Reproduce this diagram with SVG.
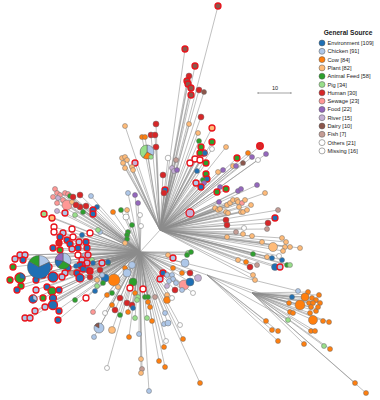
<svg xmlns="http://www.w3.org/2000/svg" width="380" height="400" viewBox="0 0 380 400">
<style>
circle{stroke:#6e6e6e;stroke-width:.5}
.e{fill:#1f6fb4}.c{fill:#aec7e8}.w{fill:#ff7f0e}.p{fill:#ffbb78}.a{fill:#2ca02c}.g{fill:#98df8a}.h{fill:#d62728}.s{fill:#ff9896}.f{fill:#9467bd}.r{fill:#c5b0d5}.d{fill:#8c564b}.i{fill:#c49c94}.o{fill:#ffffff}.m{fill:#ffffff}
.R{stroke:#e8141c;stroke-width:1.3}
.ln{fill:none;stroke:#8c8c8c;stroke-width:.55}
.pie path{stroke:#555;stroke-width:.5}
.lg text{font-family:"Liberation Sans",Arial,sans-serif;font-size:5.7px;fill:#222}
.lg circle{stroke:#555;stroke-width:.5}
</style>
<rect width="380" height="400" fill="#fff"/>
<g id="connectors" class="ln">
<path d="M160 230L218 6M160 230L185 49M160 230L195 66M160 230L189 76M160 230L187 81M160 230L188 84M160 230L191 88M160 230L199 90M160 230L204 92M160 230L191 95M160 230L201 117M160 230L189 124M160 230L198 133M160 230L212 128M160 230L199 141M160 230L212 142M160 230L201 147M160 230L212 149M160 230L226 147M160 230L204 153M160 230L156 124M160 230L151 135M160 230L155 135M160 230L156 147M160 230L147 152M160 230L125 126M160 230L142 137M160 230L145 137M160 230L168 158M160 230L176 160M160 230L135 163M160 230L122 158M160 230L125 157M160 230L190 163M160 230L195 159M160 230L200 153M160 230L205 153M160 230L200 160M160 230L206 163M160 230L237 158M160 230L243 163M160 230L248 153M160 230L252 157M160 230L258 160M160 230L266 154M160 230L260 146M160 230L233 166M160 230L236 166M160 230L127 160M160 230L123 163M160 230L132 167M160 230L133 170M160 230L125 168M160 230L163 175M160 230L172 168M160 230L174 171M160 230L177 170M160 230L197 171M160 230L206 174M160 230L207 179M160 230L203 180M160 230L196 183M160 230L201 187M160 230L204 183M160 230L165 190M160 230L164 193M160 230L218 172M160 230L223 170M160 230L220 187M160 230L217 192M160 230L226 189M160 230L238 191M160 230L241 189M160 230L257 185M160 230L265 193M160 230L219 202M160 230L215 208M160 230L218 210M160 230L220 209M160 230L227 205M160 230L230 203M160 230L233 200M160 230L237 200M160 230L238 202M160 230L242 203M160 230L245 200M160 230L226 212M160 230L228 213M160 230L239 207M160 230L241 212M160 230L243 212M160 230L247 210M160 230L251 205M160 230L190 213M160 230L226 220M160 230L227 225M160 230L236 232M160 230L244 228M160 230L243 234M160 230L227 237M160 230L252 236M160 230L268 223M160 230L275 218M160 230L278 210M160 230L267 229M160 230L262 242M160 230L282 238M160 230L286 242M160 230L285 247M160 230L290 247M160 230L300 248M160 230L273 247M160 230L283 251M160 230L238 260M160 230L246 262M160 230L253 254M160 230L250 267M160 230L257 265M160 230L267 257M160 230L272 258M160 230L275 267M160 230L280 267M160 230L282 260M160 230L290 265M160 230L287 265M160 230L279 256M160 230L253 275M160 230L255 280"/>
<path d="M140 252L160 230M140 252L39 267M140 252L63 261M140 252L20 255M140 252L25 255M140 252L15 259M140 252L49 267M140 252L36 290M140 252L45 307M140 252L25 318M140 252L30 318M140 252L62 277M140 252L65 273M140 252L63 233M140 252L72 248M140 252L82 260M140 252L79 242M140 252L65 213M140 252L102 263M140 252L35 311M140 252L23 260M140 252L18 289M140 252L36 280M140 252L43 275M140 252L53 277M140 252L47 287M140 252L59 290M140 252L53 298M140 252L53 305M140 252L58 310M140 252L68 268M140 252L53 248M140 252L60 237M140 252L80 265M140 252L83 268M140 252L77 273M140 252L80 277M140 252L67 240M140 252L70 243M140 252L78 248M140 252L86 242M140 252L87 248M140 252L93 210M140 252L93 213M140 252L58 320M140 252L13 267M140 252L10 280M140 252L21 285M140 252L52 291M140 252L43 298M140 252L60 250M140 252L73 237M140 252L78 255M140 252L86 298M140 252L54 227M140 252L54 232M140 252L72 229M140 252L90 233M140 252L59 243M140 252L87 263M140 252L88 255M140 252L82 265M140 252L90 270M140 252L90 277M140 252L100 270M140 252L73 197M140 252L80 195M140 252L86 206M140 252L80 207M140 252L76 205M140 252L20 278M140 252L33 299M140 252L72 273M140 252L75 300M140 252L70 196M140 252L83 212M140 252L103 283M140 252L88 270M140 252L97 207M140 252L82 235M140 252L108 262M140 252L76 266M140 252L93 263M140 252L92 283M140 252L55 189M140 252L60 195M140 252L65 193M140 252L53 197M140 252L57 203M140 252L67 205M140 252L58 198M140 252L57 211M140 252L72 202M140 252L97 280M140 252L127 210M140 252L125 243M140 252L91 196M140 252L85 255M140 252L100 232M140 252L102 275M140 252L75 215M140 252L98 230M140 252L92 260M140 252L44 214M140 252L52 218M140 252L113 212M140 252L108 263M140 252L132 265M140 252L127 273M140 252L125 268M140 252L114 280M140 252L105 278M140 252L133 282M140 252L118 287M140 252L130 288M140 252L143 289M140 252L112 293M140 252L107 295M140 252L120 298M140 252L135 293M140 252L138 297M140 252L145 297M140 252L148 297M140 252L127 303M140 252L132 305M140 252L137 300M140 252L133 308M140 252L115 310M140 252L128 312M140 252L112 305M140 252L105 313M140 252L120 315M140 252L135 318M140 252L148 302M140 252L150 307M140 252L155 297M140 252L167 300M140 252L167 295M140 252L172 298M140 252L147 318M140 252L152 321M140 252L165 313M140 252L168 323M140 252L164 324M140 252L180 325M140 252L93 312M140 252L99 328M140 252L112 330M140 252L94 337M140 252L129 337M140 252L139 334M140 252L166 341M140 252L183 339M140 252L164 347M140 252L159 361M140 252L165 367M140 252L141 359M140 252L142 369M140 252L141 373M140 252L107 368M140 252L149 391M140 252L200 383M140 252L163 273M140 252L160 279M140 252L167 275M140 252L172 275M140 252L173 279M140 252L169 281M140 252L167 286M140 252L176 283M140 252L175 290M140 252L184 285M140 252L190 282M140 252L190 273M140 252L182 273M140 252L198 278M140 252L193 293M140 252L182 290M140 252L97 286M140 252L95 291M140 252L168 255M140 252L173 258M140 252L187 255M140 252L191 252M140 252L188 253M140 252L185 263M140 252L173 268M140 252L128 193M140 252L135 195M140 252L138 203M140 252L126 217M140 252L140 215M140 252L141 226M140 252L132 225M140 252L121 210M140 252L128 232M140 252L127 235M140 252L127 239M140 252L298 291M140 252L207 275"/>
<path d="M207 275L252 293M207 275L266 321M207 275L272 330M207 275L278 331M207 275L278 341M207 275L289 303M207 275L288 320M252 293L308 292M252 293L292 297M252 293L305 297M252 293L319 295M252 293L312 298M252 293L316 300M252 293L300 305M252 293L309 303M252 293L313 303M252 293L320 303M252 293L311 307M252 293L316 311M252 293L318 309M252 293L290 312M252 293L293 313M252 293L310 313M252 293L313 320M252 293L323 321M252 293L329 322M252 293L311 331M252 293L315 331M252 293L304 344M252 293L324 346M252 293L330 349M252 293L355 383M252 293L366 393"/>
</g>
<g id="scale">
<path d="M258 93H291M258 92v2M291 92v2" stroke="#666" stroke-width=".6" fill="none"/>
<text x="275" y="90" text-anchor="middle" font-family="Liberation Sans,Arial,sans-serif" font-size="5.5" fill="#222">10</text>
</g>
<g id="nodes-top">
<circle class="d R" cx="218" cy="6" r="3"/>
<circle class="d R" cx="185" cy="49" r="3"/>
<circle class="d R" cx="195" cy="66" r="3"/>
<circle class="h" cx="189" cy="76" r="3"/>
<circle class="d R" cx="187" cy="81" r="3"/>
<circle class="d R" cx="188" cy="84" r="3"/>
<circle class="d R" cx="191" cy="88" r="3"/>
<circle class="h" cx="199" cy="90" r="3"/>
<circle class="d" cx="204" cy="92" r="2.5"/>
<circle class="d R" cx="191" cy="95" r="3"/>
<circle class="h" cx="201" cy="117" r="3"/>
<circle class="p" cx="189" cy="124" r="2.5"/>
<circle class="p" cx="198" cy="133" r="2.5"/>
<circle class="p R" cx="212" cy="128" r="3"/>
<circle class="a" cx="199" cy="141" r="2.5"/>
<circle class="a R" cx="212" cy="142" r="3"/>
<circle class="a R" cx="201" cy="147" r="3"/>
<circle class="o" cx="212" cy="149" r="2.5"/>
<circle class="p" cx="226" cy="147" r="2.5"/>
<circle class="e R" cx="204" cy="153" r="3"/>
<circle class="h" cx="156" cy="124" r="3"/>
<circle class="h" cx="151" cy="135" r="3"/>
<circle class="h" cx="155" cy="135" r="3"/>
<circle class="h" cx="156" cy="147" r="3"/>
<circle class="p" cx="125" cy="126" r="2.5"/>
<circle class="w" cx="142" cy="137" r="2.5"/>
<circle class="w" cx="145" cy="137" r="2.5"/>
<g class="pie"><path class="c" d="M147 152L147 145A7 7 0 0 1 153.06 155.5Z"/><path class="w" d="M147 152L153.06 155.5A7 7 0 0 1 142.98 157.73Z"/><path class="g" d="M147 152L142.98 157.73A7 7 0 0 1 147 145Z"/></g>
<circle class="g" cx="151" cy="157" r="2.3"/>
<circle class="o" cx="168" cy="158" r="2.8"/>
<circle class="i" cx="176" cy="160" r="2.5"/>
<circle class="r R" cx="135" cy="163" r="3"/>
<circle class="p" cx="122" cy="158" r="2.5"/>
<circle class="p" cx="125" cy="157" r="2.5"/>
<circle class="o R" cx="190" cy="163" r="3"/>
<circle class="o R" cx="195" cy="159" r="3"/>
<circle class="a R" cx="200" cy="153" r="3"/>
<circle class="e" cx="205" cy="153" r="2.5"/>
<circle class="o R" cx="200" cy="160" r="3"/>
<circle class="a R" cx="206" cy="163" r="3"/>
<circle class="a R" cx="237" cy="158" r="3"/>
<circle class="d" cx="243" cy="163" r="2.5"/>
<circle class="w" cx="248" cy="153" r="2.5"/>
<circle class="f" cx="252" cy="157" r="2.5"/>
<circle class="o" cx="258" cy="160" r="2.5"/>
<circle class="f" cx="266" cy="154" r="2.5"/>
<circle class="h R" cx="260" cy="146" r="3.3"/>
<circle class="p" cx="233" cy="166" r="2.5"/>
<circle class="f" cx="236" cy="166" r="2.5"/>
<circle class="p" cx="127" cy="160" r="2.5"/>
<circle class="p" cx="123" cy="163" r="2.5"/>
<circle class="p" cx="132" cy="167" r="2.5"/>
<circle class="p" cx="133" cy="170" r="2.5"/>
<circle class="p" cx="125" cy="168" r="2.5"/>
<circle class="h" cx="163" cy="175" r="3"/>
<circle class="r" cx="172" cy="168" r="2.5"/>
<circle class="r" cx="174" cy="171" r="2.5"/>
<circle class="f" cx="177" cy="170" r="2.5"/>
<circle class="e" cx="197" cy="171" r="2.5"/>
<circle class="a R" cx="206" cy="174" r="3"/>
<circle class="e R" cx="207" cy="179" r="3"/>
<circle class="a" cx="203" cy="180" r="2.5"/>
<circle class="c R" cx="196" cy="183" r="3"/>
<circle class="f" cx="204" cy="183" r="2.5"/>
<circle class="e R" cx="201" cy="187" r="3"/>
<circle class="e R" cx="165" cy="190" r="3"/>
<circle class="h" cx="164" cy="193" r="3"/>
</g>
<g id="nodes-right">
<circle class="p" cx="218" cy="172" r="2.5"/>
<circle class="f" cx="223" cy="170" r="2.5"/>
<circle class="f" cx="220" cy="187" r="2.5"/>
<circle class="a R" cx="217" cy="192" r="3"/>
<circle class="a R" cx="226" cy="189" r="3"/>
<circle class="f" cx="238" cy="191" r="2.5"/>
<circle class="f" cx="241" cy="189" r="2.5"/>
<circle class="f" cx="257" cy="185" r="2.5"/>
<circle class="p" cx="265" cy="193" r="2.5"/>
<circle class="f" cx="219" cy="202" r="2.5"/>
<circle class="p" cx="215" cy="208" r="2.5"/>
<circle class="p" cx="218" cy="210" r="2.5"/>
<circle class="p" cx="220" cy="209" r="2.5"/>
<circle class="p" cx="227" cy="205" r="2.5"/>
<circle class="p" cx="230" cy="203" r="2.5"/>
<circle class="p" cx="233" cy="200" r="2.5"/>
<circle class="p" cx="237" cy="200" r="2.5"/>
<circle class="p" cx="238" cy="202" r="2.5"/>
<circle class="s" cx="242" cy="203" r="2.5"/>
<circle class="p" cx="245" cy="200" r="2.5"/>
<circle class="p" cx="226" cy="212" r="2.5"/>
<circle class="p" cx="228" cy="213" r="2.5"/>
<circle class="p" cx="239" cy="207" r="2.5"/>
<circle class="p" cx="241" cy="212" r="2.5"/>
<circle class="p" cx="243" cy="212" r="2.5"/>
<circle class="p" cx="247" cy="210" r="2.5"/>
<circle class="p" cx="251" cy="205" r="2.5"/>
<circle class="r R" cx="190" cy="213" r="4"/>
<circle class="h" cx="226" cy="220" r="3"/>
<circle class="h" cx="227" cy="225" r="3"/>
<circle class="i" cx="236" cy="232" r="2.5"/>
<circle class="o" cx="244" cy="228" r="2.5"/>
<circle class="p" cx="243" cy="234" r="2.5"/>
<circle class="p" cx="227" cy="237" r="2.5"/>
<circle class="p" cx="252" cy="236" r="2.5"/>
<circle class="h" cx="268" cy="223" r="3"/>
<circle class="e R" cx="275" cy="218" r="3"/>
<circle class="i" cx="278" cy="210" r="2.5"/>
<circle class="i" cx="267" cy="229" r="2.5"/>
<circle class="p" cx="262" cy="242" r="2.5"/>
<circle class="p" cx="282" cy="238" r="2.5"/>
<circle class="p" cx="286" cy="242" r="2.5"/>
<circle class="p" cx="285" cy="247" r="2.5"/>
<circle class="p" cx="290" cy="247" r="2.5"/>
<circle class="p" cx="300" cy="248" r="2.5"/>
<circle class="p" cx="273" cy="247" r="4.5"/>
<circle class="p" cx="283" cy="251" r="2.5"/>
<circle class="p" cx="238" cy="260" r="2.5"/>
<circle class="w" cx="246" cy="262" r="2.5"/>
<circle class="a" cx="253" cy="254" r="2.5"/>
<circle class="h" cx="250" cy="267" r="3"/>
<circle class="i" cx="257" cy="265" r="2.5"/>
<circle class="p" cx="267" cy="257" r="2.5"/>
<circle class="e" cx="272" cy="258" r="2.5"/>
<circle class="e" cx="275" cy="267" r="3.5"/>
<circle class="c R" cx="280" cy="267" r="3"/>
<circle class="e" cx="282" cy="260" r="2.5"/>
<circle class="a" cx="287" cy="265" r="2.5"/>
<circle class="g" cx="290" cy="265" r="2.5"/>
<circle class="o" cx="279" cy="256" r="2.5"/>
<circle class="p" cx="253" cy="275" r="2.5"/>
<circle class="p" cx="255" cy="280" r="2.5"/>
</g>
<g id="nodes-orange">
<circle class="c" cx="298" cy="291" r="2.5"/>
<circle class="w" cx="308" cy="292" r="2.5"/>
<circle class="e" cx="292" cy="297" r="2.5"/>
<circle class="w" cx="305" cy="297" r="4"/>
<circle class="w" cx="319" cy="295" r="2.5"/>
<circle class="w" cx="312" cy="298" r="2.5"/>
<circle class="w" cx="316" cy="300" r="2.5"/>
<circle class="w" cx="300" cy="305" r="5"/>
<circle class="w" cx="289" cy="303" r="2.5"/>
<circle class="w" cx="309" cy="303" r="2.5"/>
<circle class="w" cx="313" cy="303" r="2.5"/>
<circle class="w" cx="320" cy="303" r="2.5"/>
<circle class="w" cx="311" cy="307" r="2.5"/>
<circle class="w" cx="316" cy="311" r="2.5"/>
<circle class="w" cx="318" cy="307" r="2.5"/>
<circle class="w" cx="290" cy="312" r="2.5"/>
<circle class="w" cx="293" cy="313" r="2.5"/>
<circle class="w" cx="310" cy="313" r="2.5"/>
<circle class="w" cx="313" cy="320" r="4.5"/>
<circle class="w" cx="323" cy="321" r="2.5"/>
<circle class="w" cx="329" cy="322" r="2.5"/>
<circle class="g" cx="288" cy="320" r="2.5"/>
<circle class="w" cx="266" cy="321" r="2.5"/>
<circle class="w" cx="272" cy="330" r="2.5"/>
<circle class="w" cx="278" cy="331" r="2.5"/>
<circle class="w" cx="278" cy="341" r="2.5"/>
<circle class="w" cx="311" cy="331" r="2.5"/>
<circle class="w" cx="315" cy="331" r="2.5"/>
<circle class="w" cx="304" cy="344" r="2.5"/>
<circle class="g" cx="324" cy="346" r="2.5"/>
<circle class="w" cx="330" cy="349" r="2.5"/>
<circle class="w" cx="355" cy="383" r="2.5"/>
<circle class="w" cx="366" cy="393" r="2.5"/>
</g>
<g id="nodes-bottom">
<circle class="a" cx="108" cy="263" r="2.5"/>
<circle class="c" cx="132" cy="265" r="3.5"/>
<circle class="w" cx="125" cy="268" r="2.5"/>
<circle class="c" cx="127" cy="273" r="4"/>
<circle class="w" cx="114" cy="280" r="6"/>
<circle class="e" cx="105" cy="278" r="4"/>
<circle class="a" cx="133" cy="282" r="4"/>
<circle class="g" cx="97" cy="286" r="2.5"/>
<circle class="e" cx="95" cy="291" r="2.5"/>
<circle class="p" cx="118" cy="287" r="2.5"/>
<circle class="o R" cx="130" cy="288" r="3"/>
<circle class="o R" cx="143" cy="289" r="3"/>
<circle class="a" cx="112" cy="293" r="2.5"/>
<circle class="w" cx="107" cy="295" r="2.5"/>
<circle class="h" cx="120" cy="298" r="3"/>
<circle class="w" cx="135" cy="293" r="2.5"/>
<circle class="g" cx="138" cy="297" r="2.5"/>
<circle class="a" cx="145" cy="297" r="2.5"/>
<circle class="a" cx="148" cy="297" r="2.5"/>
<circle class="h" cx="127" cy="303" r="3"/>
<circle class="h" cx="132" cy="305" r="3"/>
<circle class="g" cx="137" cy="300" r="2.5"/>
<circle class="e" cx="133" cy="308" r="2.5"/>
<circle class="h" cx="115" cy="310" r="3"/>
<circle class="w" cx="128" cy="312" r="2.5"/>
<circle class="w" cx="112" cy="305" r="2.5"/>
<circle class="o" cx="105" cy="313" r="2.5"/>
<circle class="a" cx="120" cy="315" r="2.5"/>
<circle class="g" cx="135" cy="318" r="2.5"/>
<circle class="w" cx="148" cy="302" r="2.5"/>
<circle class="w" cx="150" cy="307" r="2.5"/>
<circle class="i" cx="155" cy="297" r="2.5"/>
<circle class="p" cx="167" cy="295" r="2.5"/>
<circle class="w" cx="167" cy="300" r="3.5"/>
<circle class="o" cx="172" cy="298" r="2.5"/>
<circle class="g" cx="147" cy="318" r="2.5"/>
<circle class="w" cx="152" cy="321" r="2.5"/>
<circle class="c" cx="165" cy="313" r="2.5"/>
<circle class="c" cx="164" cy="324" r="2.5"/>
<circle class="c" cx="168" cy="323" r="3"/>
<circle class="o" cx="180" cy="325" r="2.5"/>
<circle class="s" cx="93" cy="312" r="2.5"/>
<g class="pie"><circle class="c" cx="99" cy="328" r="5" style="stroke:#555"/><path class="d" d="M99 328L94.67 325.5A5 5 0 0 1 99 323Z"/></g>
<circle class="p" cx="112" cy="330" r="3.5"/>
<circle class="c" cx="94" cy="337" r="2.5"/>
<circle class="w" cx="129" cy="337" r="2.5"/>
<circle class="c" cx="139" cy="334" r="2.5"/>
<circle class="o" cx="166" cy="341" r="2.5"/>
<circle class="w" cx="183" cy="339" r="2.5"/>
<circle class="w" cx="164" cy="347" r="2.5"/>
<circle class="w" cx="159" cy="361" r="2.5"/>
<circle class="w" cx="165" cy="367" r="2.5"/>
<circle class="p" cx="141" cy="359" r="2.5"/>
<circle class="i" cx="142" cy="369" r="2.5"/>
<circle class="p" cx="141" cy="373" r="2.5"/>
<circle class="o" cx="107" cy="368" r="2.5"/>
<circle class="c" cx="149" cy="391" r="2.5"/>
<circle class="w" cx="200" cy="383" r="2.5"/>
<circle class="p" cx="168" cy="255" r="2.5"/>
<circle class="c R" cx="173" cy="258" r="3"/>
<circle class="g" cx="188" cy="253" r="2.5"/>
<circle class="a" cx="187" cy="255" r="2.5"/>
<circle class="a" cx="191" cy="252" r="2.5"/>
<circle class="c" cx="185" cy="263" r="4"/>
<circle class="w" cx="173" cy="268" r="2.5"/>
<circle class="e R" cx="163" cy="273" r="3"/>
<circle class="c R" cx="160" cy="279" r="3"/>
<circle class="c" cx="167" cy="275" r="2.5"/>
<circle class="c" cx="172" cy="275" r="2.5"/>
<circle class="c" cx="173" cy="279" r="2.5"/>
<circle class="c" cx="169" cy="281" r="2.5"/>
<circle class="r" cx="167" cy="286" r="2.5"/>
<circle class="c" cx="176" cy="283" r="2.5"/>
<circle class="h" cx="175" cy="290" r="3"/>
<circle class="s" cx="184" cy="285" r="5"/>
<circle class="e" cx="190" cy="282" r="4"/>
<circle class="h" cx="190" cy="273" r="3"/>
<circle class="w" cx="182" cy="273" r="2.5"/>
<circle class="r" cx="198" cy="278" r="3.5"/>
<circle class="o" cx="193" cy="293" r="2.5"/>
<circle class="c" cx="182" cy="290" r="2.5"/>
<circle class="c" cx="128" cy="193" r="2.5"/>
<circle class="f" cx="135" cy="195" r="2.5"/>
<circle class="f" cx="138" cy="203" r="2.5"/>
<circle class="o" cx="126" cy="217" r="3"/>
<circle class="o" cx="140" cy="215" r="2.5"/>
<circle class="o" cx="141" cy="226" r="2.5"/>
<circle class="a" cx="132" cy="225" r="2.5"/>
<circle class="a" cx="121" cy="210" r="2.5"/>
<circle class="a" cx="128" cy="232" r="2.5"/>
<circle class="a" cx="127" cy="235" r="2.5"/>
<circle class="a" cx="127" cy="239" r="2.5"/>
<circle class="p" cx="125" cy="243" r="2.5"/>
<circle class="p" cx="127" cy="210" r="2.5"/>
<circle class="w" cx="113" cy="212" r="2.5"/>
</g>
<g id="nodes-left">
<circle class="s" cx="55" cy="189" r="2.5"/>
<circle class="s" cx="57" cy="193" r="2.5"/>
<circle class="s" cx="60" cy="195" r="2.5"/>
<circle class="s" cx="65" cy="193" r="2.5"/>
<circle class="s" cx="68" cy="194" r="2.5"/>
<circle class="s" cx="53" cy="197" r="2.5"/>
<circle class="r" cx="58" cy="198" r="2.5"/>
<circle class="s" cx="63" cy="200" r="2.5"/>
<circle class="s" cx="57" cy="203" r="2.5"/>
<circle class="s" cx="67" cy="205" r="5"/>
<circle class="p" cx="72" cy="202" r="2.5"/>
<circle class="a" cx="70" cy="196" r="2.5"/>
<circle class="h" cx="73" cy="197" r="3"/>
<circle class="h" cx="80" cy="195" r="3"/>
<circle class="h" cx="86" cy="206" r="3"/>
<circle class="h" cx="80" cy="207" r="3"/>
<circle class="h" cx="76" cy="205" r="3"/>
<circle class="c" cx="91" cy="196" r="2.5"/>
<circle class="e" cx="97" cy="207" r="2.5"/>
<circle class="e R" cx="93" cy="210" r="3"/>
<circle class="e R" cx="93" cy="214" r="3"/>
<circle class="a" cx="83" cy="212" r="2.5"/>
<circle class="g" cx="75" cy="215" r="2.5"/>
<circle class="c R" cx="65" cy="213" r="3"/>
<circle class="r" cx="57" cy="211" r="2.5"/>
<circle class="g R" cx="44" cy="214" r="3"/>
<circle class="p R" cx="52" cy="218" r="3"/>
<circle class="o R" cx="54" cy="227" r="3"/>
<circle class="o R" cx="54" cy="232" r="3"/>
<circle class="o R" cx="72" cy="229" r="3"/>
<circle class="o R" cx="90" cy="233" r="3"/>
<circle class="e" cx="82" cy="235" r="2.5"/>
<circle class="c" cx="100" cy="232" r="2.5"/>
<circle class="g" cx="98" cy="230" r="2.5"/>
<circle class="c R" cx="63" cy="233" r="3"/>
<circle class="e R" cx="60" cy="237" r="3"/>
<circle class="o R" cx="73" cy="237" r="3"/>
<circle class="e R" cx="67" cy="240" r="3"/>
<circle class="e R" cx="70" cy="244" r="3"/>
<circle class="h R" cx="59" cy="243" r="3"/>
<circle class="c R" cx="79" cy="242" r="3"/>
<circle class="e R" cx="86" cy="242" r="3"/>
<circle class="e R" cx="78" cy="248" r="3"/>
<circle class="e R" cx="87" cy="248" r="3"/>
<circle class="e R" cx="53" cy="248" r="3"/>
<circle class="c R" cx="72" cy="249" r="3"/>
<circle class="a R" cx="60" cy="250" r="3"/>
<circle class="o R" cx="78" cy="255" r="3"/>
<circle class="c" cx="85" cy="255" r="2.5"/>
<circle class="r R" cx="88" cy="255" r="3"/>
<circle class="c R" cx="82" cy="260" r="3"/>
<circle class="g" cx="92" cy="260" r="2.5"/>
<circle class="e" cx="93" cy="263" r="2.5"/>
<circle class="c R" cx="102" cy="263" r="3"/>
<circle class="e" cx="108" cy="262" r="2.5"/>
<circle class="r R" cx="87" cy="263" r="3"/>
<circle class="f R" cx="82" cy="265" r="3"/>
<circle class="e R" cx="80" cy="265" r="3"/>
<circle class="e" cx="76" cy="266" r="2.5"/>
<circle class="e R" cx="83" cy="269" r="3"/>
<circle class="e" cx="88" cy="270" r="3"/>
<circle class="h R" cx="90" cy="271" r="3"/>
<circle class="h" cx="100" cy="270" r="3"/>
<circle class="c" cx="102" cy="275" r="2.5"/>
<circle class="h" cx="90" cy="277" r="3"/>
<circle class="p" cx="97" cy="280" r="2.5"/>
<circle class="a" cx="103" cy="283" r="2.5"/>
<circle class="e R" cx="68" cy="268" r="3"/>
<circle class="i" cx="72" cy="273" r="2.5"/>
<circle class="e R" cx="77" cy="273" r="3"/>
<circle class="e R" cx="80" cy="278" r="4"/>
<circle class="c R" cx="65" cy="273" r="3"/>
<circle class="c R" cx="62" cy="277" r="3"/>
<circle class="c R" cx="20" cy="255" r="3"/>
<circle class="c R" cx="25" cy="255" r="3"/>
<circle class="c R" cx="15" cy="259" r="3"/>
<circle class="e R" cx="23" cy="260" r="3"/>
<circle class="a R" cx="13" cy="267" r="3"/>
<circle class="a R" cx="10" cy="280" r="3"/>
<g class="pie"><circle class="a R" cx="20" cy="278" r="5"/><path class="e" d="M20 278L20 273A5 5 0 0 1 24.92 278.87Z"/></g>
<circle class="a R" cx="21" cy="286" r="3"/>
<circle class="e R" cx="17" cy="290" r="3"/>
<circle class="c R" cx="49" cy="267" r="3"/>
<circle class="e R" cx="36" cy="280" r="3"/>
<circle class="e R" cx="43" cy="275" r="3"/>
<circle class="e R" cx="53" cy="277" r="5"/>
<circle class="e R" cx="47" cy="287" r="3"/>
<circle class="c R" cx="36" cy="290" r="3"/>
<circle class="a R" cx="52" cy="291" r="4"/>
<circle class="e R" cx="59" cy="290" r="3"/>
<g class="pie"><circle class="e R" cx="33" cy="299" r="4"/><path class="c" d="M33 299L33 295A4 4 0 0 1 36.46 301Z"/></g>
<circle class="a R" cx="43" cy="298" r="3"/>
<circle class="e R" cx="53" cy="298" r="3.5"/>
<circle class="c R" cx="45" cy="307" r="3"/>
<circle class="e R" cx="53" cy="305" r="4.5"/>
<circle class="e R" cx="59" cy="311" r="3"/>
<circle class="c R" cx="35" cy="311" r="3"/>
<circle class="c R" cx="25" cy="318" r="3"/>
<circle class="c R" cx="30" cy="318" r="3"/>
<circle class="e R" cx="58" cy="320" r="3"/>
<circle class="a" cx="75" cy="300" r="2.5"/>
<circle class="o R" cx="86" cy="298" r="3"/>
<g class="pie" id="pieA"><path class="c" d="M39 267L39 255.5A11.5 11.5 0 0 1 49.42 262.14Z"/><path class="e" d="M39 267L49.42 262.14A11.5 11.5 0 1 1 29.04 261.25Z"/><path class="a" d="M39 267L29.04 261.25A11.5 11.5 0 0 1 39 255.5Z"/></g>
<g class="pie" id="pieB"><path class="c" d="M63 261L63 253A8 8 0 0 1 69.93 265Z"/><path class="a" d="M63 261L69.93 265A8 8 0 0 1 57.86 267.13Z"/><path class="e" d="M63 261L57.86 267.13A8 8 0 0 1 55.12 259.61Z"/><path class="f" d="M63 261L55.12 259.61A8 8 0 0 1 63 253Z"/></g>
</g>
<g id="legend" class="lg">
<text x="348" y="34.5" text-anchor="middle" style="font-weight:bold;font-size:6.6px">General Source</text>
<circle class="e" cx="322" cy="43" r="3"/><text x="327.5" y="45">Environment [109]</text>
<circle class="c" cx="322" cy="51.3" r="3"/><text x="327.5" y="53.3">Chicken [91]</text>
<circle class="w" cx="322" cy="59.6" r="3"/><text x="327.5" y="61.6">Cow [84]</text>
<circle class="p" cx="322" cy="67.9" r="3"/><text x="327.5" y="69.9">Plant [82]</text>
<circle class="a" cx="322" cy="76.2" r="3"/><text x="327.5" y="78.2">Animal Feed [58]</text>
<circle class="g" cx="322" cy="84.5" r="3"/><text x="327.5" y="86.5">Pig [34]</text>
<circle class="h" cx="322" cy="92.8" r="3"/><text x="327.5" y="94.8">Human [30]</text>
<circle class="s" cx="322" cy="101.1" r="3"/><text x="327.5" y="103.1">Sewage [23]</text>
<circle class="f" cx="322" cy="109.4" r="3"/><text x="327.5" y="111.4">Food [22]</text>
<circle class="r" cx="322" cy="117.7" r="3"/><text x="327.5" y="119.7">River [15]</text>
<circle class="d" cx="322" cy="126" r="3"/><text x="327.5" y="128">Dairy [10]</text>
<circle class="i" cx="322" cy="134.3" r="3"/><text x="327.5" y="136.3">Fish [7]</text>
<circle class="o" cx="322" cy="142.6" r="3"/><text x="327.5" y="144.6">Others [21]</text>
<circle class="m" cx="322" cy="150.9" r="3"/><text x="327.5" y="152.9">Missing [16]</text>
</g>
</svg>
